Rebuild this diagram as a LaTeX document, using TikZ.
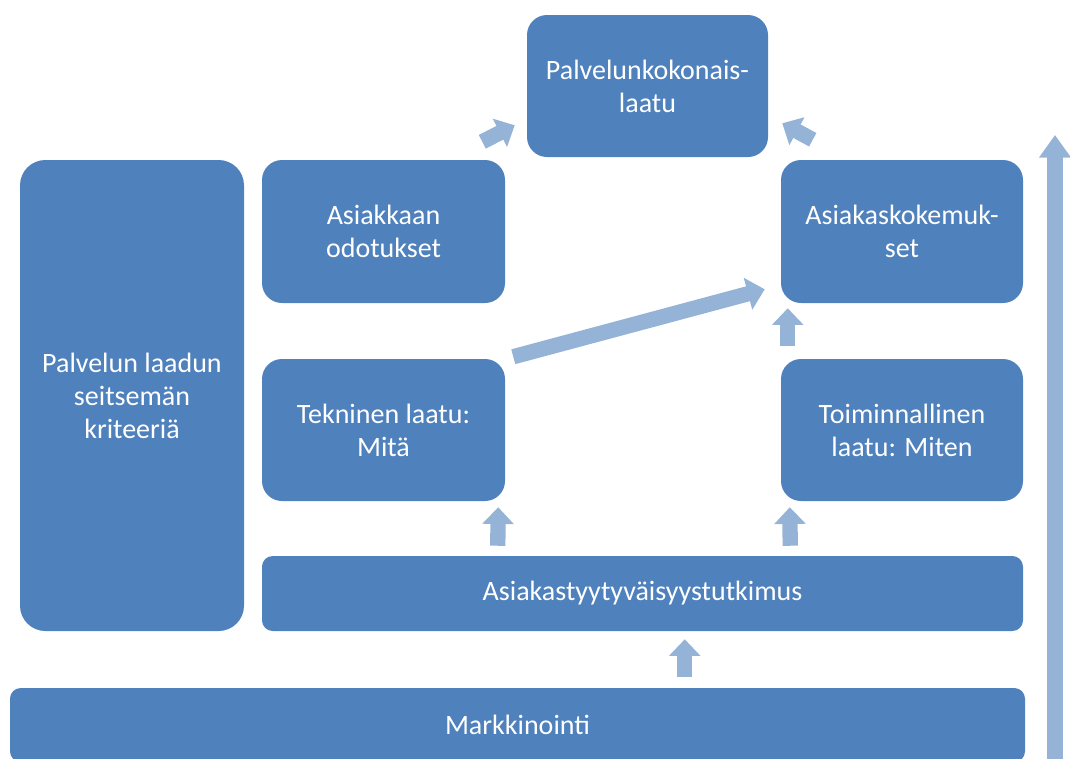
\documentclass[tikz,border=0pt]{standalone}
\usepackage{fontspec}
\setmainfont{Carlito}
\usetikzlibrary{calc,arrows.meta}
\definecolor{boxblue}{HTML}{4F81BD}
\definecolor{arrowblue}{HTML}{95B3D7}

\begin{document}
\begin{tikzpicture}[x=0.75pt,y=-0.75pt,
   box/.style 2 args={rectangle,fill=boxblue,text=white,align=center,
     rounded corners=15pt,inner sep=2pt,
     minimum width=#1*0.75pt,minimum height=#2*0.75pt,
     font=\fontsize{21}{24.75}\selectfont},
   blk/.style={draw=arrowblue,line width=11.5pt,
     -{Triangle[length=12.5pt,width=23pt]}}]
   \clip (0,0) rectangle (1070,758);
   % Top
   \node[box={241}{142}] (koko) at (647.5,86) {Palvelunkokonais-\\laatu};
   \node[box={243}{143}] (odo) at (383.5,231.5) {Asiakkaan\\odotukset};
   \node[box={242}{143}] (kok) at (902,231.5) {Asiakaskokemuk-\\set};
   % Left
   \node[box={224}{471},rounded corners=19pt] (kri) at (132,395.5) {Palvelun laadun\\seitsemän\\kriteeriä};
   % Middle
   \node[box={243}{142}] (tek) at (383.5,430) {Tekninen laatu:\\Mitä};
   \node[box={242}{142}] (toi) at (902,430) {Toiminnallinen\\laatu: Miten};
   % Bottom
   \node[box={761}{75},rounded corners=8pt] (tutk) at (642.5,593.5) {Asiakastyytyväisyystutkimus};
   \node[box={1015}{74},rounded corners=8pt] (mark) at (517.5,725) {Markkinointi};
   % Arrows
   \draw[blk] ($(odo.north east)+(-23,-18)$) -- ($(koko.south west)+(-12,-32)$);
   \draw[blk] ($(kok.north west)+(32,-20)$) -- ($(koko.south east)+(14,-34)$);
   \draw[blk,-{Triangle[length=13pt,width=24pt]}] ($(tek.north east)+(8,-2)$) -- ($(kok.south west)+(-16,-14)$);
   \draw[blk] ($(toi.north west)+(7,-13)$) -- ($(kok.south west)+(7,5)$);
   \draw[blk] ($(tutk.north west)+(236,-10)$) -- ($(tek.south east)+(-7,6)$);
   \draw[blk] ($(tutk.north east)+(-233,-10)$) -- ($(toi.south west)+(9,6)$);
   \draw[blk] ($(mark.north west)+(675,-11)$) -- ($(tutk.south west)+(423,8)$);
   \coordinate (up0) at (1055,770);
   \coordinate (up1) at (1055,135);
   \draw[blk,-{Triangle[length=17pt,width=23pt]}] (up0) -- (up1);
\end{tikzpicture}
\end{document}
